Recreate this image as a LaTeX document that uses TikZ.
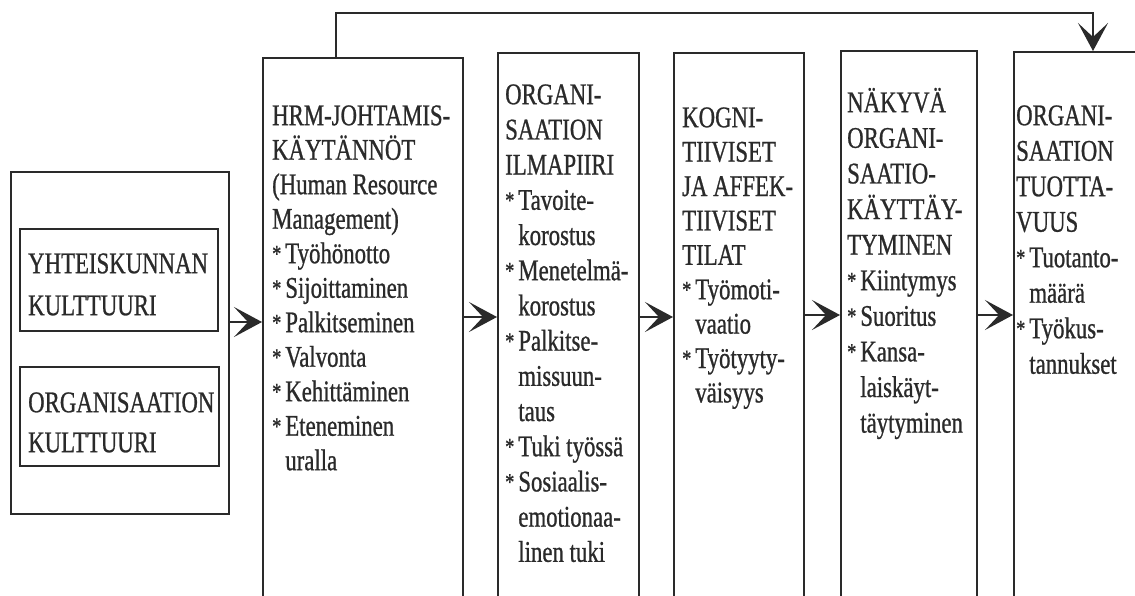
\documentclass[tikz,border=0pt]{standalone}
\usepackage{fontspec}
\setmainfont{Liberation Serif}[FakeStretch=0.76,FakeBold=0.8]
\usetikzlibrary{arrows.meta}
\definecolor{ink}{HTML}{2A2A2A}
% first-line strut: fixes the top of every text block 28pt above its first baseline
\newcommand\colstrut{\rule{0pt}{28pt}}
\newcommand\bstar{\raisebox{1.5pt}{\fontsize{24pt}{24pt}\selectfont *}}
\newcommand\bitem{\bstar\hspace{4pt}}
\newcommand\bcont{\hphantom{\bstar\hspace{4pt}}}
\begin{document}
\begin{tikzpicture}[x=1pt,y=-1pt,
  box/.style={draw=ink, line width=1.5pt, anchor=north west, inner sep=0pt},
  txt/.style={anchor=north west, inner sep=0pt, align=left, text=ink},
  arr/.style={draw=ink, line width=1.5pt, -{Stealth[length=28pt,width=30pt,inset=14pt]}}]
\useasboundingbox (0,0) rectangle (1135,595);
\clip (0,0) rectangle (1135,595);
\fill[white] (0,0) rectangle (1135,595);

% cultures
\node[box, minimum width=218pt, minimum height=342pt] (cult) at (10,171) {};
\node[box, minimum width=198pt, minimum height=102pt] (soc) at (19,228) {};
\node[box, minimum width=199pt, minimum height=99pt] (org) at (19,366) {};
\node[txt, font={\fontsize{30pt}{42pt}\selectfont}] (soct) at (28,245)
  {\colstrut YHTEISKUNNAN\\ KULTTUURI};
\node[txt, font={\fontsize{30pt}{40pt}\selectfont}] (orgt) at (28,384)
  {\colstrut ORGANISAATION\\ KULTTUURI};

% columns (open towards the bottom edge)
\node[box, minimum width=200pt, minimum height=570pt] (hrm)  at (262,57) {};
\node[box, minimum width=141pt, minimum height=570pt] (clim) at (497,52) {};
\node[box, minimum width=130pt, minimum height=570pt] (cog)  at (673,52) {};
\node[box, minimum width=136pt, minimum height=570pt] (beh)  at (840,50) {};
\node[box, minimum width=140pt, minimum height=570pt] (prod) at (1013,51) {};

\node[txt, font={\fontsize{30pt}{34.5pt}\selectfont}] (hrmt) at (272,97)
  {\colstrut HRM-JOHTAMIS-\\ KÄYTÄNNÖT\\ (Human Resource\\ Management)\\
   \bitem Työhönotto\\ \bitem Sijoittaminen\\ \bitem Palkitseminen\\
   \bitem Valvonta\\ \bitem Kehittäminen\\ \bitem Eteneminen\\ \bcont uralla};
\node[txt, font={\fontsize{30pt}{35.2pt}\selectfont}] (climt) at (505,76)
  {\colstrut ORGANI-\\ SAATION\\ ILMAPIIRI\\ \bitem Tavoite-\\ \bcont korostus\\
   \bitem Menetelmä-\\ \bcont korostus\\ \bitem Palkitse-\\ \bcont missuun-\\
   \bcont taus\\ \bitem Tuki työssä\\ \bitem Sosiaalis-\\ \bcont emotionaa-\\
   \bcont linen tuki};
\node[txt, font={\fontsize{30pt}{34.4pt}\selectfont}] (cogt) at (682,99)
  {\colstrut KOGNI-\\ TIIVISET\\ JA AFFEK-\\ TIIVISET\\ TILAT\\
   \bitem Työmoti-\\ \bcont vaatio\\ \bitem Työtyyty-\\ \bcont väisyys};
\node[txt, font={\fontsize{30pt}{35.6pt}\selectfont}] (beht) at (847,84)
  {\colstrut NÄKYVÄ\\ ORGANI-\\ SAATIO-\\ KÄYTTÄY-\\ TYMINEN\\
   \bitem Kiintymys\\ \bitem Suoritus\\ \bitem Kansa-\\ \bcont laiskäyt-\\
   \bcont täytyminen};
\node[txt, font={\fontsize{30pt}{35.5pt}\selectfont}] (prodt) at (1016,97)
  {\colstrut ORGANI-\\ SAATION\\ TUOTTA-\\ VUUS\\ \bitem Tuotanto-\\
   \bcont määrä\\ \bitem Työkus-\\ \bcont tannukset};

% main chain
\draw[arr] (cult.east |- 0,322) -- (hrm.west |- 0,322);
\draw[arr] (hrm.east |- 0,317) -- (clim.west |- 0,317);
\draw[arr] (clim.east |- 0,317) -- (cog.west |- 0,317);
\draw[arr] (cog.east |- 0,315) -- (beh.west |- 0,315);
\draw[arr] (beh.east |- 0,315) -- (prod.west |- 0,315);

% feedback from HRM practices straight to productivity
\coordinate (fbL) at (336,13);
\coordinate (fbR) at (1093,13);
\draw[arr] (hrm.north -| fbL) -- (fbL) -- (fbR) -- (prod.north -| fbR);
\end{tikzpicture}
\end{document}
